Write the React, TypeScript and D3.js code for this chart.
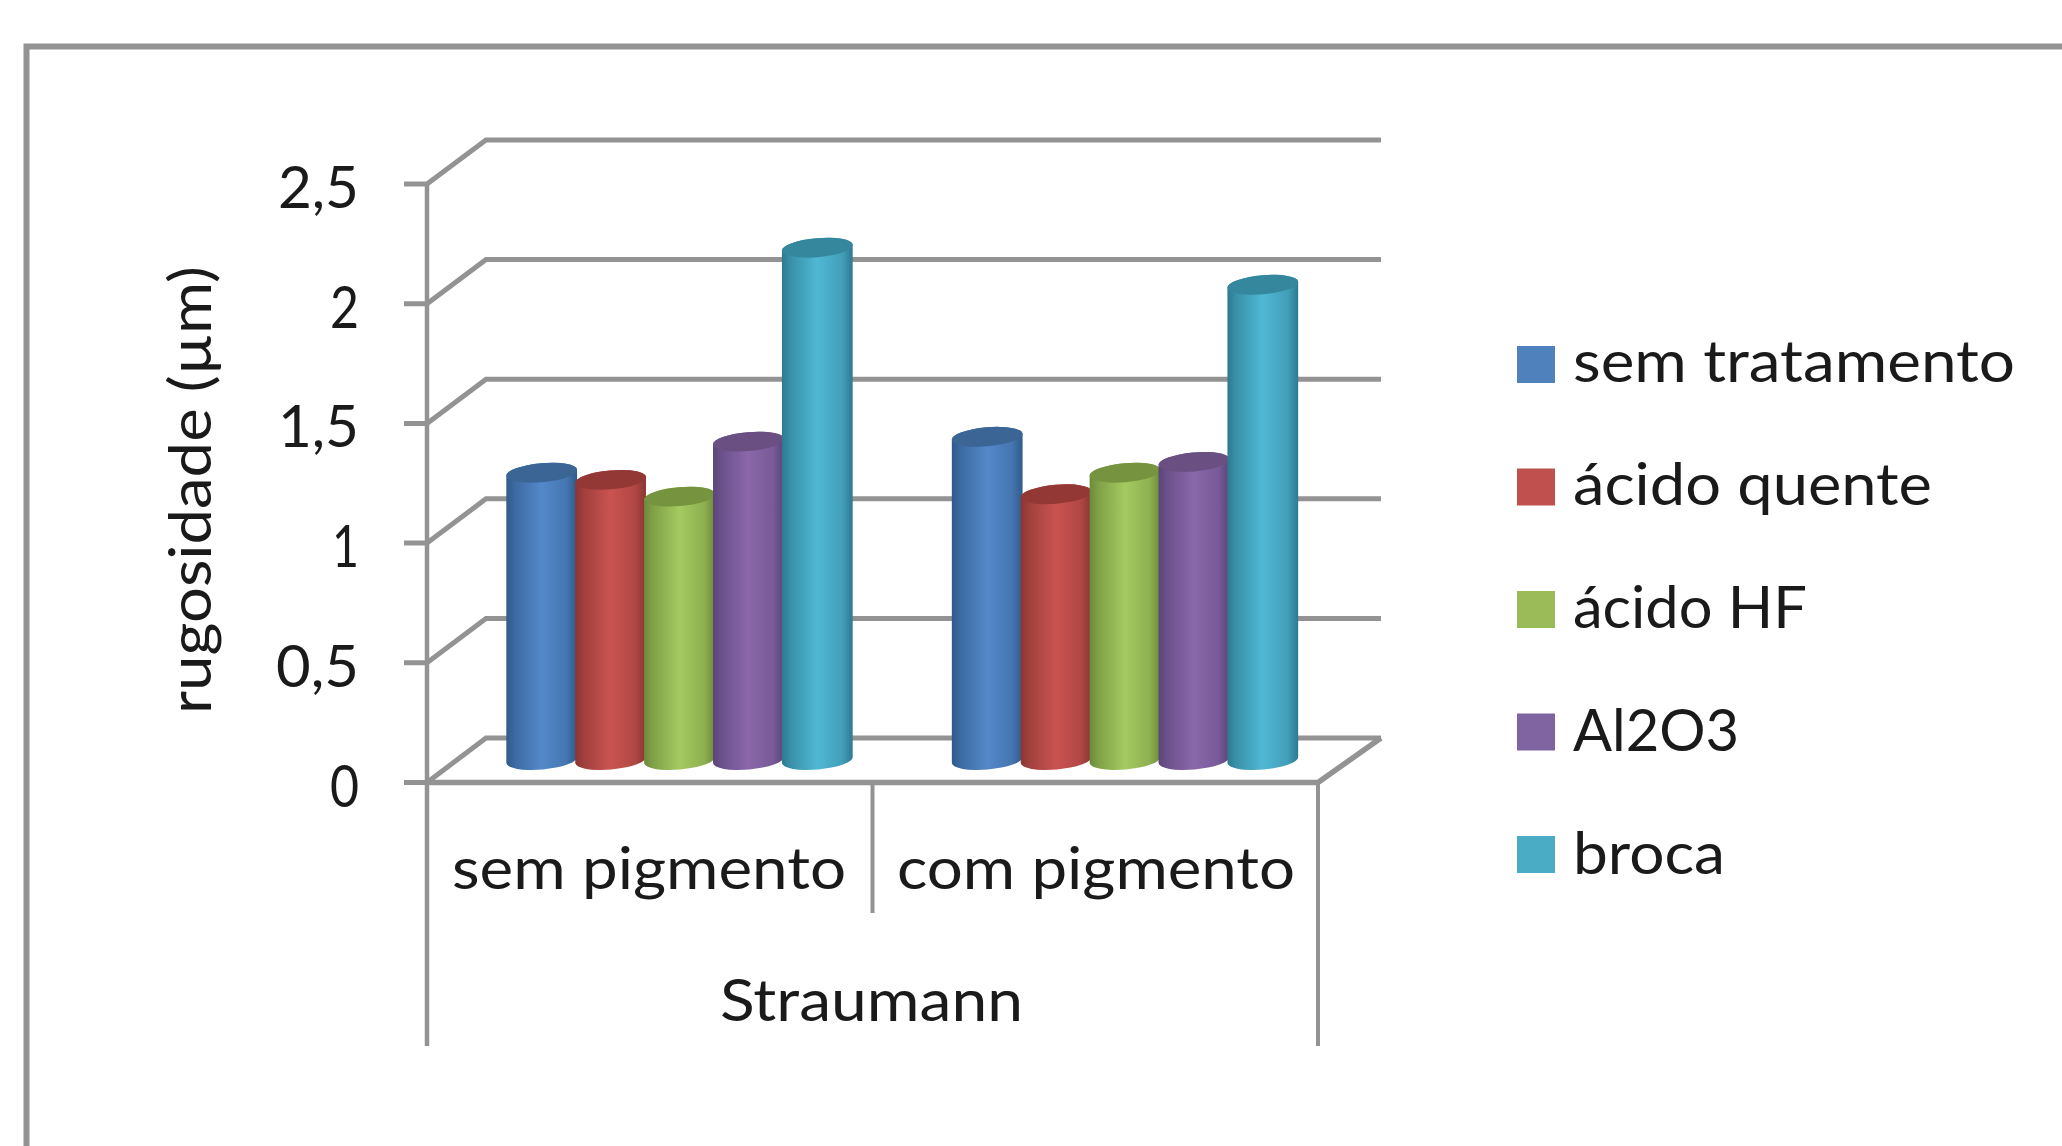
import React from "react";
import * as d3 from "d3";

// Surface roughness by surface treatment, grouped by pigment condition
const groups = ["sem pigmento", "com pigmento"];
const parentGroup = "Straumann";
const seriesNames = ["sem tratamento", "ácido quente", "ácido HF", "Al2O3", "broca"];
const semPigmento = [1.2, 1.17, 1.1, 1.33, 2.14];
const comPigmento = [1.35, 1.11, 1.2, 1.245, 1.985];
const tickValues = [0, 0.5, 1, 1.5, 2, 2.5];
const tickLabels = ["0", "0,5", "1", "1,5", "2", "2,5"];
const yTitle = "rugosidade (µm)";

const swatch = ["#4f81bd", "#c0504d", "#9bbb59", "#8064a2", "#4bacc6"];
const edge = ["#2f5a8b", "#8a3533", "#6c8a3a", "#5b4578", "#2c7a90"];
const mid = ["#5488ca", "#ca5350", "#a5ca60", "#8a68ab", "#50b8d4"];
const cap = ["#3a6595", "#943836", "#76933f", "#6a4f82", "#35879e"];

const legendWidths = [442, 359, 234, 166, 152];
const legendStart = [1573, 1573, 1573, 1573, 1573];
const tickWidths = [29, 83, 27, 81, 29, 81];

const W = 2062;
const H = 1146;
const FONT = "Lato, 'Open Sans', sans-serif";
const GREY = "#939393";

const frontY = d3.scaleLinear().domain([0, 2.5]).range([782.5, 184]);
const backY = d3.scaleLinear().domain([0, 2.5]).range([738, 140]);
const barY = d3.scaleLinear().domain([0, 2.5]).range([760, 161.5]);

const frontX = d3.scaleBand<string>().domain(groups).range([427, 1318]);
const DEPTH_X = 59;
const seriesX = d3.scaleBand<string>().domain(seriesNames).range([-172, 172.5]);

const RX = 35.5;
const RY = 9.5;
const TILT = 5;

function cylinder(cx: number, top: number, base: number) {
  const t = (TILT * Math.PI) / 180;
  const dx = RX * Math.cos(t);
  const dy = RX * Math.sin(t);
  const arc = `A${RX},${RY} ${-TILT} 0 0 ${cx + dx},${base - dy}`;
  return `M${cx - dx},${top + dy}L${cx - dx},${base + dy}${arc}L${cx + dx},${top - dy}A${RX},${RY} ${-TILT} 0 0 ${cx - dx},${top + dy}Z`;
}

function Label(props: { x: number; y: number; w: number; anchor?: string; children: string; rotate?: boolean }) {
  const { x, y, w, anchor = "start", children, rotate } = props;
  return (
    <text
      x={x}
      y={y}
      textAnchor={anchor}
      textLength={w}
      lengthAdjust="spacingAndGlyphs"
      fontFamily={FONT}
      fontSize={58}
      fill="#1a1a1a"
      transform={rotate ? `rotate(-90 ${x} ${y})` : undefined}
    >
      {children}
    </text>
  );
}

export default function App() {
  const rows = [semPigmento, comPigmento];
  const wallLeft = 427 + DEPTH_X;
  const wallRight = 1381;
  return (
    <svg width={W} height={H} style={{ position: "absolute", left: 0, top: 0, background: "#fff" }}>
      <defs>
        {seriesNames.map((_, i) => (
          <linearGradient key={i} id={`cyl${i}`} x1="0" x2="1" y1="0" y2="0">
            <stop offset="0" stopColor={edge[i]} />
            <stop offset="0.12" stopColor={d3.interpolateRgb(edge[i], mid[i])(0.35)} />
            <stop offset="0.5" stopColor={mid[i]} />
            <stop offset="0.85" stopColor={d3.interpolateRgb(edge[i], mid[i])(0.6)} />
            <stop offset="1" stopColor={edge[i]} />
          </linearGradient>
        ))}
      </defs>

      {/* chart area border, running off the right and bottom edges */}
      <path d={`M${W},46.5H26.5V${H}`} fill="none" stroke={GREY} strokeWidth={6} />

      {/* walls: back gridlines, side diagonals, axis ticks */}
      {tickValues.map((v) => (
        <path
          key={v}
          d={`M404,${frontY(v)}H427L${wallLeft},${backY(v)}H${wallRight}`}
          fill="none"
          stroke={GREY}
          strokeWidth={5}
        />
      ))}
      <line x1={427} x2={427} y1={frontY(2.5)} y2={1046} stroke={GREY} strokeWidth={4.5} />

      {/* floor front edge and multi-level category dividers */}
      <path
        d={`M427,${frontY(0)}H1318L${wallRight},${backY(0)}`}
        fill="none"
        stroke={GREY}
        strokeWidth={5.5}
      />
      <line x1={872.5} x2={872.5} y1={frontY(0)} y2={913} stroke={GREY} strokeWidth={4} />
      <line x1={1318} x2={1318} y1={frontY(0)} y2={1046} stroke={GREY} strokeWidth={4} />

      {/* cylinders */}
      {groups.map((g, gi) =>
        seriesNames.map((s, si) => {
          const cx =
            frontX(g)! + frontX.bandwidth() / 2 + DEPTH_X / 2 + seriesX(s)! + seriesX.bandwidth() / 2;
          const top = barY(rows[gi][si]);
          return (
            <g key={`${g}-${s}`}>
              <path d={cylinder(cx, top, barY(0))} fill={`url(#cyl${si})`} />
              <ellipse
                cx={cx}
                cy={top}
                rx={RX}
                ry={RY}
                fill={cap[si]}
                transform={`rotate(${-TILT} ${cx} ${top})`}
              />
            </g>
          );
        })
      )}

      {/* value axis */}
      {tickValues.map((v, i) => (
        <Label key={v} x={359} y={frontY(v) + 24} w={tickWidths[i]} anchor="end">
          {tickLabels[i]}
        </Label>
      ))}
      <Label x={211} y={714} w={448} rotate>
        {yTitle}
      </Label>

      {/* category labels */}
      <Label x={452} y={889} w={394}>
        {groups[0]}
      </Label>
      <Label x={897} y={889} w={398}>
        {groups[1]}
      </Label>
      <Label x={720} y={1021} w={303}>
        {parentGroup}
      </Label>

      {/* legend */}
      {seriesNames.map((s, i) => (
        <g key={s}>
          <rect x={1517} y={346 + i * 122.5} width={38} height={37} fill={swatch[i]} />
          <Label x={legendStart[i]} y={382 + i * 123} w={legendWidths[i]}>
            {s}
          </Label>
        </g>
      ))}
    </svg>
  );
}
